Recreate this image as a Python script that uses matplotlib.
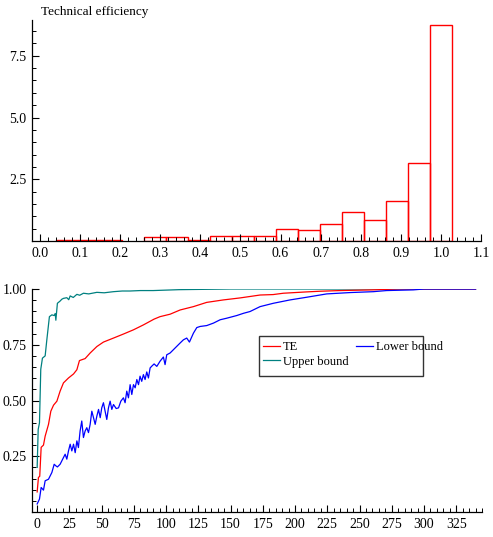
import numpy as np
import matplotlib
matplotlib.use('Agg')
import matplotlib.pyplot as plt
from matplotlib.patches import Rectangle
from matplotlib.ticker import MultipleLocator, FormatStrFormatter

# histogram of technical efficiency (density)
bin_start = 0.041
bin_width = 0.0548
hist_heights = [0.05, 0.05, 0.05, 0.0, 0.16, 0.16, 0.06, 0.22, 0.22,
                0.20, 0.47, 0.43, 0.70, 1.16, 0.84, 1.60, 3.16, 8.75]

# ranked efficiency curves
te_x = [0, 1, 2, 3.1, 4.9, 6.2, 8.8, 10.6, 12.7, 15.3, 17.8, 20.4, 24.3, 28.2,
        30.8, 32.8, 37.2, 41.1, 46.3, 51.4, 59.2, 66.9, 74.7, 82.4, 90.7, 95.3,
        103.1, 110.9, 121.2, 131.5, 144.4, 157.4, 172.9, 183, 190.9, 209, 219.4,
        235, 260, 280, 340]
te_y = [0.09, 0.155, 0.16, 0.29, 0.30, 0.34, 0.393, 0.452, 0.479, 0.497, 0.542,
        0.579, 0.601, 0.619, 0.638, 0.679, 0.688, 0.713, 0.742, 0.762, 0.780,
        0.798, 0.817, 0.839, 0.865, 0.876, 0.887, 0.906, 0.921, 0.940, 0.951,
        0.960, 0.973, 0.975, 0.981, 0.987, 0.990, 0.993, 0.996, 1.0, 1.0]

up_x = [0, 0.8, 1.8, 2.8, 4.1, 6.2, 7.5, 9.5, 11.4, 13.2, 14.0, 14.5, 15.7,
        17.8, 19.1, 20.4, 23, 24.5, 25.6, 28, 30.8, 33, 35.9, 40, 46.3, 52,
        59.2, 66, 72, 80, 90, 100, 110, 150, 340]
up_y = [0.20, 0.37, 0.40, 0.64, 0.69, 0.70, 0.772, 0.876, 0.884, 0.881, 0.89,
        0.86, 0.936, 0.946, 0.954, 0.958, 0.961, 0.952, 0.969, 0.962, 0.976,
        0.972, 0.981, 0.978, 0.985, 0.983, 0.988, 0.991, 0.991, 0.993, 0.993,
        0.995, 0.997, 1.0, 1.0]

lo_x = [0, 1.8, 3.1, 4.9, 6.2, 8.8, 11.4, 13.2, 14.5, 15.7, 17.8, 20.4, 21.7,
        23, 24.3, 25.6, 26.9, 28.2, 29.5, 30.8, 32, 33.3, 34.6, 35.9, 37.2,
        38.5, 39.8, 41.1, 42.4, 43.7, 45, 46.3, 47.6, 48.9, 50.1, 51.4, 52.7,
        54, 55.3, 56.6, 57.9, 59.2, 61.3, 63.1, 64.9, 66.9, 68.2, 69.5, 70.8,
        72.1, 73.4, 74.7, 76, 77.3, 78.6, 79.8, 81.1, 82.4, 83.7, 85, 86.3,
        87.6, 88.9, 90.7, 92.8, 95.3, 97.9, 99.2, 100.5, 103.1, 105.7, 108.3,
        110.9, 113.4, 116, 118.1, 121.2, 123.8, 126.4, 131.5, 136.7, 141.9,
        147, 154.8, 160, 165.1, 172.9, 183.2, 196.1, 209, 224.6, 242.7, 260.7,
        271, 291.7, 300, 340]
lo_y = [0.036, 0.058, 0.110, 0.098, 0.140, 0.147, 0.177, 0.214, 0.207, 0.202,
        0.214, 0.244, 0.259, 0.237, 0.274, 0.304, 0.274, 0.304, 0.266, 0.319,
        0.289, 0.363, 0.408, 0.334, 0.363, 0.378, 0.356, 0.393, 0.452, 0.423,
        0.393, 0.430, 0.460, 0.423, 0.467, 0.490, 0.452, 0.415, 0.467, 0.497,
        0.460, 0.482, 0.464, 0.467, 0.497, 0.512, 0.490, 0.542, 0.512, 0.571,
        0.527, 0.571, 0.557, 0.594, 0.571, 0.609, 0.586, 0.616, 0.594, 0.628,
        0.601, 0.646, 0.654, 0.664, 0.653, 0.676, 0.695, 0.661, 0.705, 0.713,
        0.728, 0.743, 0.758, 0.772, 0.780, 0.762, 0.802, 0.827, 0.832, 0.836,
        0.847, 0.862, 0.869, 0.881, 0.891, 0.899, 0.921, 0.936, 0.951, 0.963,
        0.978, 0.984, 0.988, 0.993, 0.996, 1.0, 1.0]

plt.rcParams['font.family'] = ['Liberation Serif', 'DejaVu Serif']

W, H = 493, 537
fig = plt.figure(figsize=(W / 100, H / 100), dpi=100)

def px_axes(l, t, r, b):
    return fig.add_axes([l / W, 1 - b / H, (r - l) / W, (b - t) / H])

def style_axes(ax):
    for s in ['top', 'right']:
        ax.spines[s].set_visible(False)
    for s in ['left', 'bottom']:
        ax.spines[s].set_linewidth(0.9)
    ax.tick_params(which='both', direction='in', colors='black', labelsize=10)
    ax.tick_params(which='major', length=5, width=0.8, pad=4)
    ax.tick_params(which='minor', length=3, width=0.7)

# top panel: histogram
ax1 = px_axes(32, 20, 481, 241)
style_axes(ax1)
lefts = bin_start + bin_width * np.arange(len(hist_heights))
hh = np.array(hist_heights)
keep = hh > 0
ax1.bar(lefts[keep], hh[keep], width=bin_width, align='edge', fill=False,
        edgecolor='#ff0000', linewidth=1.0)
ax1.set_xlim(-0.02, 1.1)
ax1.set_ylim(0, 8.95)
ax1.set_xticks(np.arange(0, 1.11, 0.1))
ax1.xaxis.set_major_formatter(FormatStrFormatter('%.1f'))
ax1.xaxis.set_minor_locator(MultipleLocator(0.02))
ax1.set_yticks([2.5, 5.0, 7.5])
ax1.yaxis.set_major_formatter(FormatStrFormatter('%.1f'))
ax1.yaxis.set_minor_locator(MultipleLocator(0.5))
fig.text(41 / W, 1 - 12 / H, 'Technical efficiency', fontsize=9.5,
         ha='left', va='center')

# bottom panel: ranked efficiencies
ax2 = px_axes(32, 289, 482, 512)
style_axes(ax2)
l_up, = ax2.plot(up_x, up_y, color='#008080', lw=0.9)
l_te, = ax2.plot(te_x, te_y, color='#ff0000', lw=0.9)
l_lo, = ax2.plot(lo_x, lo_y, color='#0000ff', lw=0.9)
ax2.set_xlim(-4, 345)
ax2.set_ylim(0, 1.0)
ax2.set_xticks(np.arange(0, 326, 25))
ax2.xaxis.set_minor_locator(MultipleLocator(5))
ax2.set_yticks([0.25, 0.5, 0.75, 1.0])
ax2.yaxis.set_major_formatter(FormatStrFormatter('%.2f'))
ax2.yaxis.set_minor_locator(MultipleLocator(0.05))

# legend box is narrower than its text, as in the original
ax2.add_patch(Rectangle((0.5044, 0.610), 0.3645, 0.179, transform=ax2.transAxes,
                        facecolor='white', edgecolor='#333333', lw=1.0,
                        zorder=4))
leg = ax2.legend([l_te, l_up, l_lo], ['TE', 'Upper bound', 'Lower bound'],
                 ncol=2, loc='upper left',
                 bbox_to_anchor=((263 - 32) / 450, (512 - 341) / 223),
                 borderaxespad=0, borderpad=0, fontsize=9, handlelength=1.36,
                 handletextpad=0.25, columnspacing=0.55, labelspacing=0.2,
                 frameon=False)
leg.set_zorder(5)

fig.savefig('out.png', dpi=100)
